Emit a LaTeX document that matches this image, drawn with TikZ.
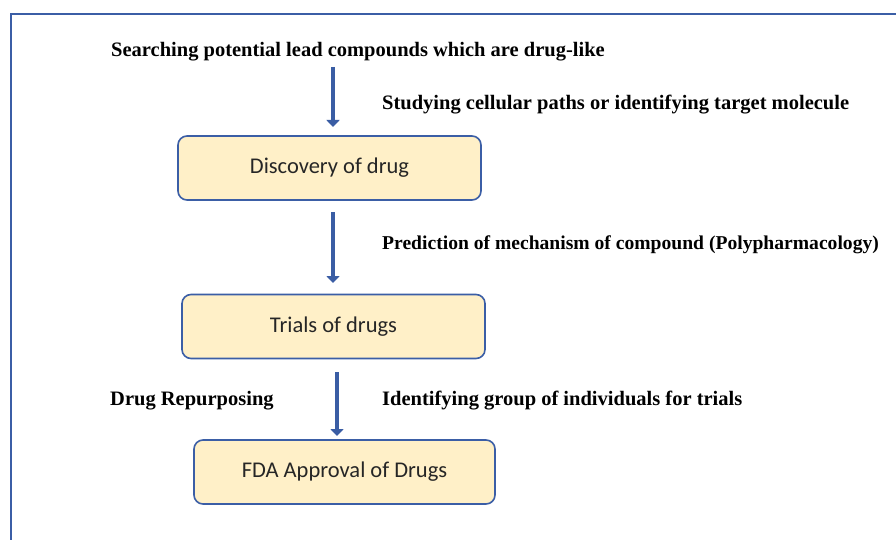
\documentclass[tikz,border=0pt]{standalone}
\usepackage{fontspec}
\setmainfont{Liberation Serif}
\newfontfamily\boxfont{Carlito}
\usetikzlibrary{arrows.meta}
\definecolor{frameblue}{HTML}{3B5EA6}
\definecolor{boxfill}{HTML}{FFF0C8}
\definecolor{boxline}{HTML}{3B5EA6}
\definecolor{arrowblue}{HTML}{3A5DA4}
\tikzset{
  stagebox/.style={draw=boxline, line width=1.6pt, fill=boxfill, rounded corners=9pt, minimum width=#1, minimum height=64pt, font=\boxfont\fontsize{22.5}{26}\selectfont, text=black!85},
  stagebox/.default=303pt,
  note/.style={anchor=west, inner sep=0pt, font=\bfseries\fontsize{20.5}{24}\selectfont},
  flow/.style={draw=arrowblue, line width=4.5pt, -{Triangle[length=7pt,width=13pt]}}
}
\begin{document}
\begin{tikzpicture}[x=1pt,y=-1pt]
\useasboundingbox (0,0) rectangle (896,540);
\fill[white] (0,0) rectangle (896,540);
\draw[frameblue, line width=2pt] (10.5,541) -- (10.5,14.5) -- (897,14.5);
\node[stagebox] (disc) at (329.5,168) {\raisebox{4pt}{Discovery of drug}};
\node[stagebox] (trial) at (333.5,326.5) {\raisebox{4pt}{Trials of drugs}};
\node[stagebox=301pt] (fda) at (344.5,472) {\raisebox{4pt}{FDA Approval of Drugs}};
\coordinate (s1) at (333,67);
\coordinate (e1) at (333,127);
\coordinate (s2) at (333,212);
\coordinate (e2) at (333,283);
\coordinate (s3) at (337,372);
\coordinate (e3) at (337,436);
\draw[flow] (s1) -- (e1);
\draw[flow] (s2) -- (e2);
\draw[flow] (s3) -- (e3);
\node[note] (t1) at (111,52) {Searching potential lead compounds which are drug-like};
\node[note] (t2) at (382,105) {Studying cellular paths or identifying target molecule};
\node[note, font=\bfseries\fontsize{19.6}{24}\selectfont] (t3) at (382,245) {Prediction of mechanism of compound (Polypharmacology)};
\node[note] (t4) at (110,401) {Drug Repurposing};
\node[note] (t5) at (382,401) {Identifying group of individuals for trials};
\end{tikzpicture}
\end{document}
